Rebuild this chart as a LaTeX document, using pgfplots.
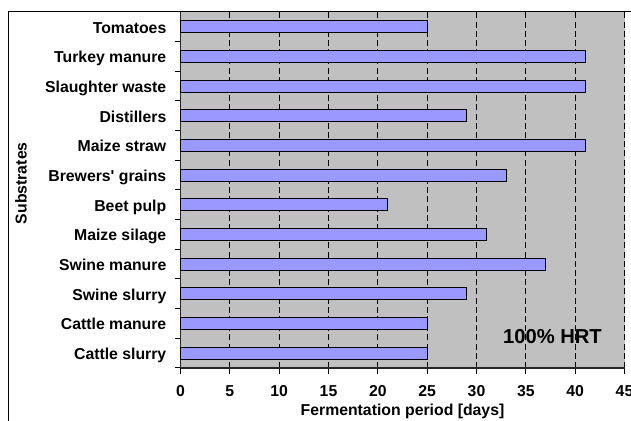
\documentclass[border=0pt]{standalone}
\usepackage{pgfplots}
\pgfplotsset{compat=1.18}
\usepackage{fontspec}
\setmainfont{Liberation Sans}
\definecolor{plotgray}{RGB}{192,192,192}
\definecolor{barblue}{RGB}{153,153,255}
\begin{document}
\begin{tikzpicture}
\begin{axis}[
  at={(90.25pt,26.5pt)}, anchor=south west,
  scale only axis, width=222pt, height=178pt,
  xmin=0, xmax=45, ymin=-0.5, ymax=11.5,
  xbar, bar width=0.4,
  axis background/.style={fill=plotgray},
  axis x line*=bottom, axis y line*=left,
  axis line style={-, draw=black!85, line width=0.6pt},
  xtick={0,5,...,45},
  xmajorgrids,
  major grid style={black, line width=0.5pt, dash pattern=on 3pt off 1.6pt},
  ytick={-0.5,0.5,...,10.5},
  yticklabels={Cattle slurry,Cattle manure,Swine slurry,Swine manure,Maize silage,Beet pulp,Brewers\textquotesingle\ grains,Maize straw,Distillers,Slaughter waste,Turkey manure,Tomatoes},
  extra y ticks={11.5}, extra y tick labels={},
  tick align=outside, major tick length=3pt,
  tick style={black, line width=0.5pt},
  /pgf/number format/assume math mode=true,
  tick label style={font=\fontsize{7.9}{9}\selectfont\bfseries},
  xticklabel style={anchor=base, yshift=-11.35pt},
  yticklabel style={anchor=base east, inner sep=0pt, xshift=-3.9pt, yshift=4.17pt},
  every axis x label/.style={at={(axis description cs:0.5,0)}, yshift=-24pt, anchor=base, font=\fontsize{7.9}{9}\selectfont\bfseries},
  every axis y label/.style={at={(axis description cs:0,0.519)}, xshift=-76.9pt, rotate=90, anchor=base, font=\fontsize{7.9}{9}\selectfont\bfseries},
  xlabel={Fermentation period [days]},
  ylabel={Substrates},
  clip=false,
]
\addplot[fill=barblue, draw=black, line width=0.5pt] coordinates {
  (25,0) (25,1) (29,2) (37,3) (31,4) (21,5) (33,6) (41,7) (29,8) (41,9) (41,10) (25,11)
};
\node[font=\fontsize{10.1}{12}\selectfont\bfseries] at (axis cs:37.7,0.55) {100\% HRT};
\end{axis}
\draw[line width=0.5pt, black] (4pt,0pt) -- (4pt,204.5pt) -- (315.5pt,204.5pt);
\pgfresetboundingbox
\path[use as bounding box] (0,0) rectangle (315.5pt,210.5pt);
\end{tikzpicture}
\end{document}
